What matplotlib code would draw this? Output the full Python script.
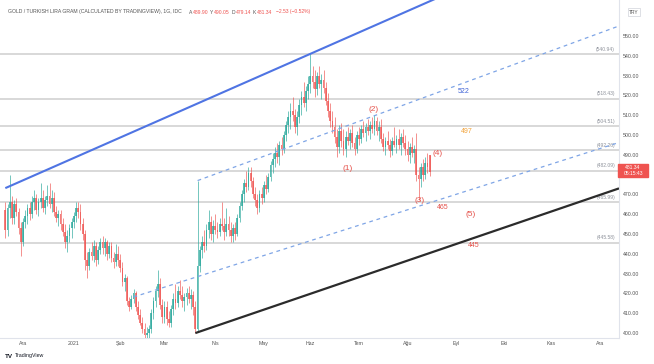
import numpy as np
import pandas as pd
import matplotlib
matplotlib.use("Agg")
import matplotlib.pyplot as plt
from matplotlib.patches import Rectangle

plt.rcParams['font.family'] = ['Liberation Sans', 'DejaVu Sans']

# ---------------- data ----------------
first_day = "2020-11-19"
last_day = "2021-08-16"
axis_end_day = "2021-12-31"

open_ = [
    # Nov
    462, 452, 463, 466, 458, 465, 461, 453,
    # Dec
    446, 456, 459, 463, 460, 466, 468, 462, 466, 468, 463, 467, 469, 465, 468, 461, 458, 460, 455, 451, 446, 449, 453,
    # Jan
    456, 459, 463, 461, 455, 450, 437, 434, 441, 439, 444, 437, 442, 446, 443, 446, 440, 444, 438, 436, 440,
    # Feb
    437, 433, 426, 428, 416, 413, 417, 420, 413, 409, 405, 402, 399, 400, 402, 410, 416, 421, 425, 414,
    # Mar
    408, 413, 407, 405, 412, 417, 415, 421, 419, 416, 418, 420, 417, 419, 413, 402, 434, 442, 446, 444, 452, 456, 450,
    # Apr
    454, 452, 451, 455, 454, 451, 455, 452, 449, 453, 450, 458, 464, 470, 476, 474, 481, 477, 470, 467, 463, 470,
    # May
    468, 475, 473, 479, 485, 488, 491, 489, 495, 493, 500, 505, 509, 512, 510, 504, 509, 515, 519, 516, 522,
    # Jun
    526, 530, 527, 523, 530, 526, 528, 524, 517, 512, 507, 504, 499, 494, 502, 497, 493, 499, 497, 501, 496, 493,
    # Jul
    500, 498, 503, 501, 504, 502, 505, 503, 507, 502, 504, 498, 494, 497, 495, 492, 497, 495, 498, 495, 499, 496,
    # Aug
    493, 490, 494, 491, 493, 480, 478, 484, 480, 486, 489.90,
]
high = [
    466, 465, 480, 469, 467, 468, 463, 456,
    458, 462, 465, 466, 469, 472, 470, 468, 476, 472, 469, 475, 476, 472, 471, 464, 462, 462, 458, 455, 452, 455, 458,
    461, 466, 466, 465, 458, 452, 441, 443, 446, 447, 446, 444, 448, 449, 448, 447, 446, 446, 441, 445, 444,
    440, 436, 430, 429, 418, 419, 422, 421, 416, 412, 408, 405, 403, 404, 412, 418, 424, 432, 428, 417,
    416, 416, 411, 414, 420, 425, 424, 427, 424, 420, 423, 424, 422, 421, 416, 477, 444, 449, 452, 455, 462, 459, 457,
    460, 456, 458, 466, 458, 463, 459, 456, 455, 456, 460, 466, 472, 478, 482, 484, 484, 479, 474, 470, 472, 474,
    477, 480, 481, 487, 491, 494, 496, 497, 499, 502, 507, 512, 516, 519, 513, 512, 518, 522, 527, 525, 530,
    541, 535, 533, 532, 535, 531, 533, 527, 521, 516, 512, 509, 503, 505, 506, 503, 502, 504, 503, 505, 499, 502,
    504, 505, 507, 506, 508, 507, 509, 510, 509, 507, 508, 501, 499, 502, 498, 499, 504, 500, 503, 501, 503, 500,
    497, 496, 499, 495, 501, 484, 486, 488, 489, 491, 490.05,
]
low = [
    448, 449, 458, 455, 455, 459, 450, 439,
    444, 453, 455, 457, 458, 462, 460, 459, 463, 461, 460, 464, 463, 461, 459, 456, 454, 452, 449, 443, 441, 446, 448,
    453, 456, 458, 452, 447, 432, 428, 432, 437, 436, 434, 435, 440, 440, 439, 437, 438, 436, 433, 434, 434,
    431, 424, 421, 414, 411, 412, 415, 411, 407, 404, 400, 397, 396, 397, 400, 407, 413, 418, 412, 405,
    405, 404, 403, 403, 409, 412, 413, 417, 413, 411, 414, 415, 412, 409, 400, 401, 431, 438, 441, 442, 448, 447, 446,
    450, 448, 449, 452, 447, 449, 449, 446, 446, 447, 449, 456, 462, 466, 471, 472, 474, 468, 464, 460, 461, 465,
    466, 470, 471, 477, 481, 484, 486, 485, 490, 491, 497, 501, 503, 507, 501, 500, 506, 510, 514, 512, 518,
    521, 524, 519, 520, 524, 518, 521, 515, 509, 504, 501, 496, 489, 491, 494, 490, 489, 495, 493, 494, 490, 491,
    495, 496, 499, 497, 500, 498, 501, 500, 500, 497, 496, 492, 490, 493, 489, 490, 494, 491, 493, 490, 494, 490,
    487, 486, 489, 486, 477, 467, 474, 477, 478, 481, 479.14,
]
close = [
    452, 463, 466, 458, 465, 461, 453, 446,
    456, 459, 463, 460, 466, 468, 462, 466, 468, 463, 467, 469, 465, 468, 461, 458, 460, 455, 451, 446, 449, 453, 456,
    459, 463, 461, 455, 450, 437, 434, 441, 439, 444, 437, 442, 446, 443, 446, 440, 444, 438, 436, 440, 437,
    433, 426, 428, 416, 413, 417, 420, 413, 409, 405, 402, 399, 400, 402, 410, 416, 421, 425, 414, 408,
    413, 407, 405, 412, 417, 415, 421, 419, 416, 418, 420, 417, 419, 413, 402, 434, 442, 446, 444, 452, 456, 450, 454,
    452, 451, 455, 454, 451, 455, 452, 449, 453, 450, 458, 464, 470, 476, 474, 481, 477, 470, 467, 463, 470, 468,
    475, 473, 479, 485, 488, 491, 489, 495, 493, 500, 505, 509, 512, 510, 504, 509, 515, 519, 516, 522, 526,
    530, 527, 523, 530, 526, 528, 524, 517, 512, 507, 504, 499, 494, 502, 497, 493, 499, 497, 501, 496, 493, 500,
    498, 503, 501, 504, 502, 505, 503, 507, 502, 504, 498, 494, 497, 495, 492, 497, 495, 498, 495, 499, 496, 493,
    490, 494, 491, 493, 480, 478, 484, 480, 486, 483.87, 481.34,
]

month_labels = ["Ara", "2021", "Şub", "Mar", "Nis", "May", "Haz", "Tem", "Ağu", "Eyl", "Eki", "Kas", "Ara"]
month_starts = ["2020-12-01", "2021-01-01", "2021-02-01", "2021-03-01", "2021-04-01", "2021-05-01",
                "2021-06-01", "2021-07-01", "2021-08-01", "2021-09-01", "2021-10-01", "2021-11-01", "2021-12-01"]

price_ticks = [400, 410, 420, 430, 440, 450, 460, 470, 490, 500, 510, 520, 530, 540, 550]

level_values = [540.94, 518.43, 504.51, 492.26, 482.09, 465.99, 445.58]

# trend lines: two anchor points (date, price), extended to the right
blue_line = [("2020-11-19", 473.2), ("2021-06-01", 541.0)]
black_line = [("2021-03-19", 400.0), ("2021-08-16", 440.4)]
upper_dashed = [("2021-03-22", 477.0), ("2021-08-16", 520.0)]
lower_dashed = [("2021-02-09", 418.2), ("2021-08-16", 465.8)]

# text annotations: (label, bar position, price, colour)
annotations = [
    ("(1)", 155.1, 483.3, "#e5524b"),
    ("(2)", 166.8, 513.1, "#e5524b"),
    ("(3)", 187.6, 466.7, "#e5524b"),
    ("(4)", 195.8, 490.9, "#e5524b"),
    ("(5)", 210.7, 460.1, "#e5524b"),
    ("465", 198.0, 463.6, "#e5524b"),
    ("445", 212.0, 444.0, "#e5524b"),
    ("522", 207.5, 522.2, "#3f63d6"),
    ("497", 208.9, 502.0, "#f2a33a"),
]

last_price = 481.34
countdown = "05:15:43"

# ---------------- figure ----------------
W, H = 654, 364
fig = plt.figure(figsize=(W / 100, H / 100), dpi=100)
ax = fig.add_axes([0, 1 - 338 / H, 619 / W, 338 / H])

dates = pd.bdate_range(first_day, last_day)
all_days = pd.bdate_range(first_day, axis_end_day)
n = len(dates)
x = np.arange(n)


def pos(d):
    return int(np.searchsorted(all_days, pd.Timestamp(d)))


px_per_bar = 2.21
ref = pos("2020-12-01")
XMIN = ref - 23 / px_per_bar
XMAX = ref + 596 / px_per_bar
ax.set_xlim(XMIN, XMAX)
ax.set_ylim(397.5, 568.2)

UP, DOWN = "#26a69a", "#ef5350"
o = np.array(open_, float)
h = np.array(high, float)
l = np.array(low, float)
c = np.array(close, float)
cols = np.where(c >= o, UP, DOWN)

# horizontal levels
for v in level_values:
    ax.axhline(v, color="#d2d2d2", lw=1.2, zorder=1)
    ax.text(XMIN + 615 / px_per_bar, v + 1.2, f"({v:.2f})", ha="right", va="bottom",
            fontsize=3.6, color="#8f939c", zorder=2)

# candles
ax.vlines(x, l, h, colors=cols, lw=0.6, alpha=0.75, zorder=3)
ax.bar(x, np.maximum(np.abs(c - o), 0.4), bottom=np.minimum(o, c), width=0.8,
       color=cols, linewidth=0, alpha=0.75, zorder=4)


def trend(pts, **kw):
    (d1, p1), (d2, p2) = pts
    x1, x2 = pos(d1), pos(d2)
    slope = (p2 - p1) / (x2 - x1)
    ax.plot([x1, XMAX], [p1, p1 + slope * (XMAX - x1)], solid_capstyle="butt", **kw)


trend(blue_line, color="#4f74e3", lw=1.5, zorder=5)
trend(black_line, color="#2b2b2b", lw=1.6, zorder=5)
trend(upper_dashed, color="#7fa5e6", lw=0.9, ls=(0, (3, 3)), zorder=5)
trend(lower_dashed, color="#7fa5e6", lw=0.9, ls=(0, (3, 3)), zorder=5)

for txt, xp, yp, col in annotations:
    fs = 6 if txt.startswith("(") else 5
    ax.text(xp, yp, txt, ha="center", va="center", fontsize=fs, color=col, zorder=6)

# axes styling
for s in ("top", "left"):
    ax.spines[s].set_visible(False)
for s in ("right", "bottom"):
    ax.spines[s].set_color("#e0e3eb")
    ax.spines[s].set_linewidth(0.8)
ax.yaxis.tick_right()
ax.set_yticks(price_ticks)
ax.set_yticklabels([f"{v:.2f}" for v in price_ticks])
ax.tick_params(axis="y", length=0, pad=3, labelsize=3.8, labelcolor="#555555")
ax.set_xticks([pos(m) for m in month_starts])
ax.set_xticklabels(month_labels)
ax.tick_params(axis="x", length=0, pad=2.5, labelsize=3.8, labelcolor="#555555")

# title
ty = 1 - 12 / H
fig.text(8 / W, ty, "GOLD / TURKISH LIRA GRAM (CALCULATED BY TRADINGVIEW), 1G, IDC",
         fontsize=3.7, color="#555555", va="center")
pieces = [(189, "A", "#555555"), (192.5, "489.90", DOWN), (210, "Y", "#555555"), (213.5, "490.05", DOWN),
          (232, "D", "#555555"), (235.5, "479.14", DOWN), (253, "K", "#555555"), (256.5, "481.34", DOWN),
          (276, "−2.53 (−0.52%)", DOWN)]
for px, t, col in pieces:
    fig.text(px / W, ty, t, fontsize=3.6, color=col, va="center")

# last price tag
fig.add_artist(Rectangle((618 / W, 1 - 177 / H), 30 / W, 13 / H, transform=fig.transFigure,
                         color="#ef5350", zorder=10))
fig.text(633 / W, 1 - 167.5 / H, f"{last_price:.2f}", fontsize=3.6, color="white",
         ha="center", va="center", zorder=11)
fig.text(633 / W, 1 - 173.5 / H, countdown, fontsize=3.6, color="white",
         ha="center", va="center", zorder=11)

# currency label
fig.text(634 / W, 1 - 12 / H, "TRY", fontsize=3.5, color="#555555", ha="center", va="center",
         bbox=dict(boxstyle="square,pad=0.25", fc="white", ec="#d0d3da", lw=0.5))

# TradingView logo
fig.text(5 / W, 1 - 356 / H, "TV", fontsize=4.5, fontweight="bold", color="#131722", va="center")
fig.text(15 / W, 1 - 356 / H, "TradingView", fontsize=3.8, color="#131722", va="center")

fig.savefig("out.png", dpi=100, facecolor="white")
